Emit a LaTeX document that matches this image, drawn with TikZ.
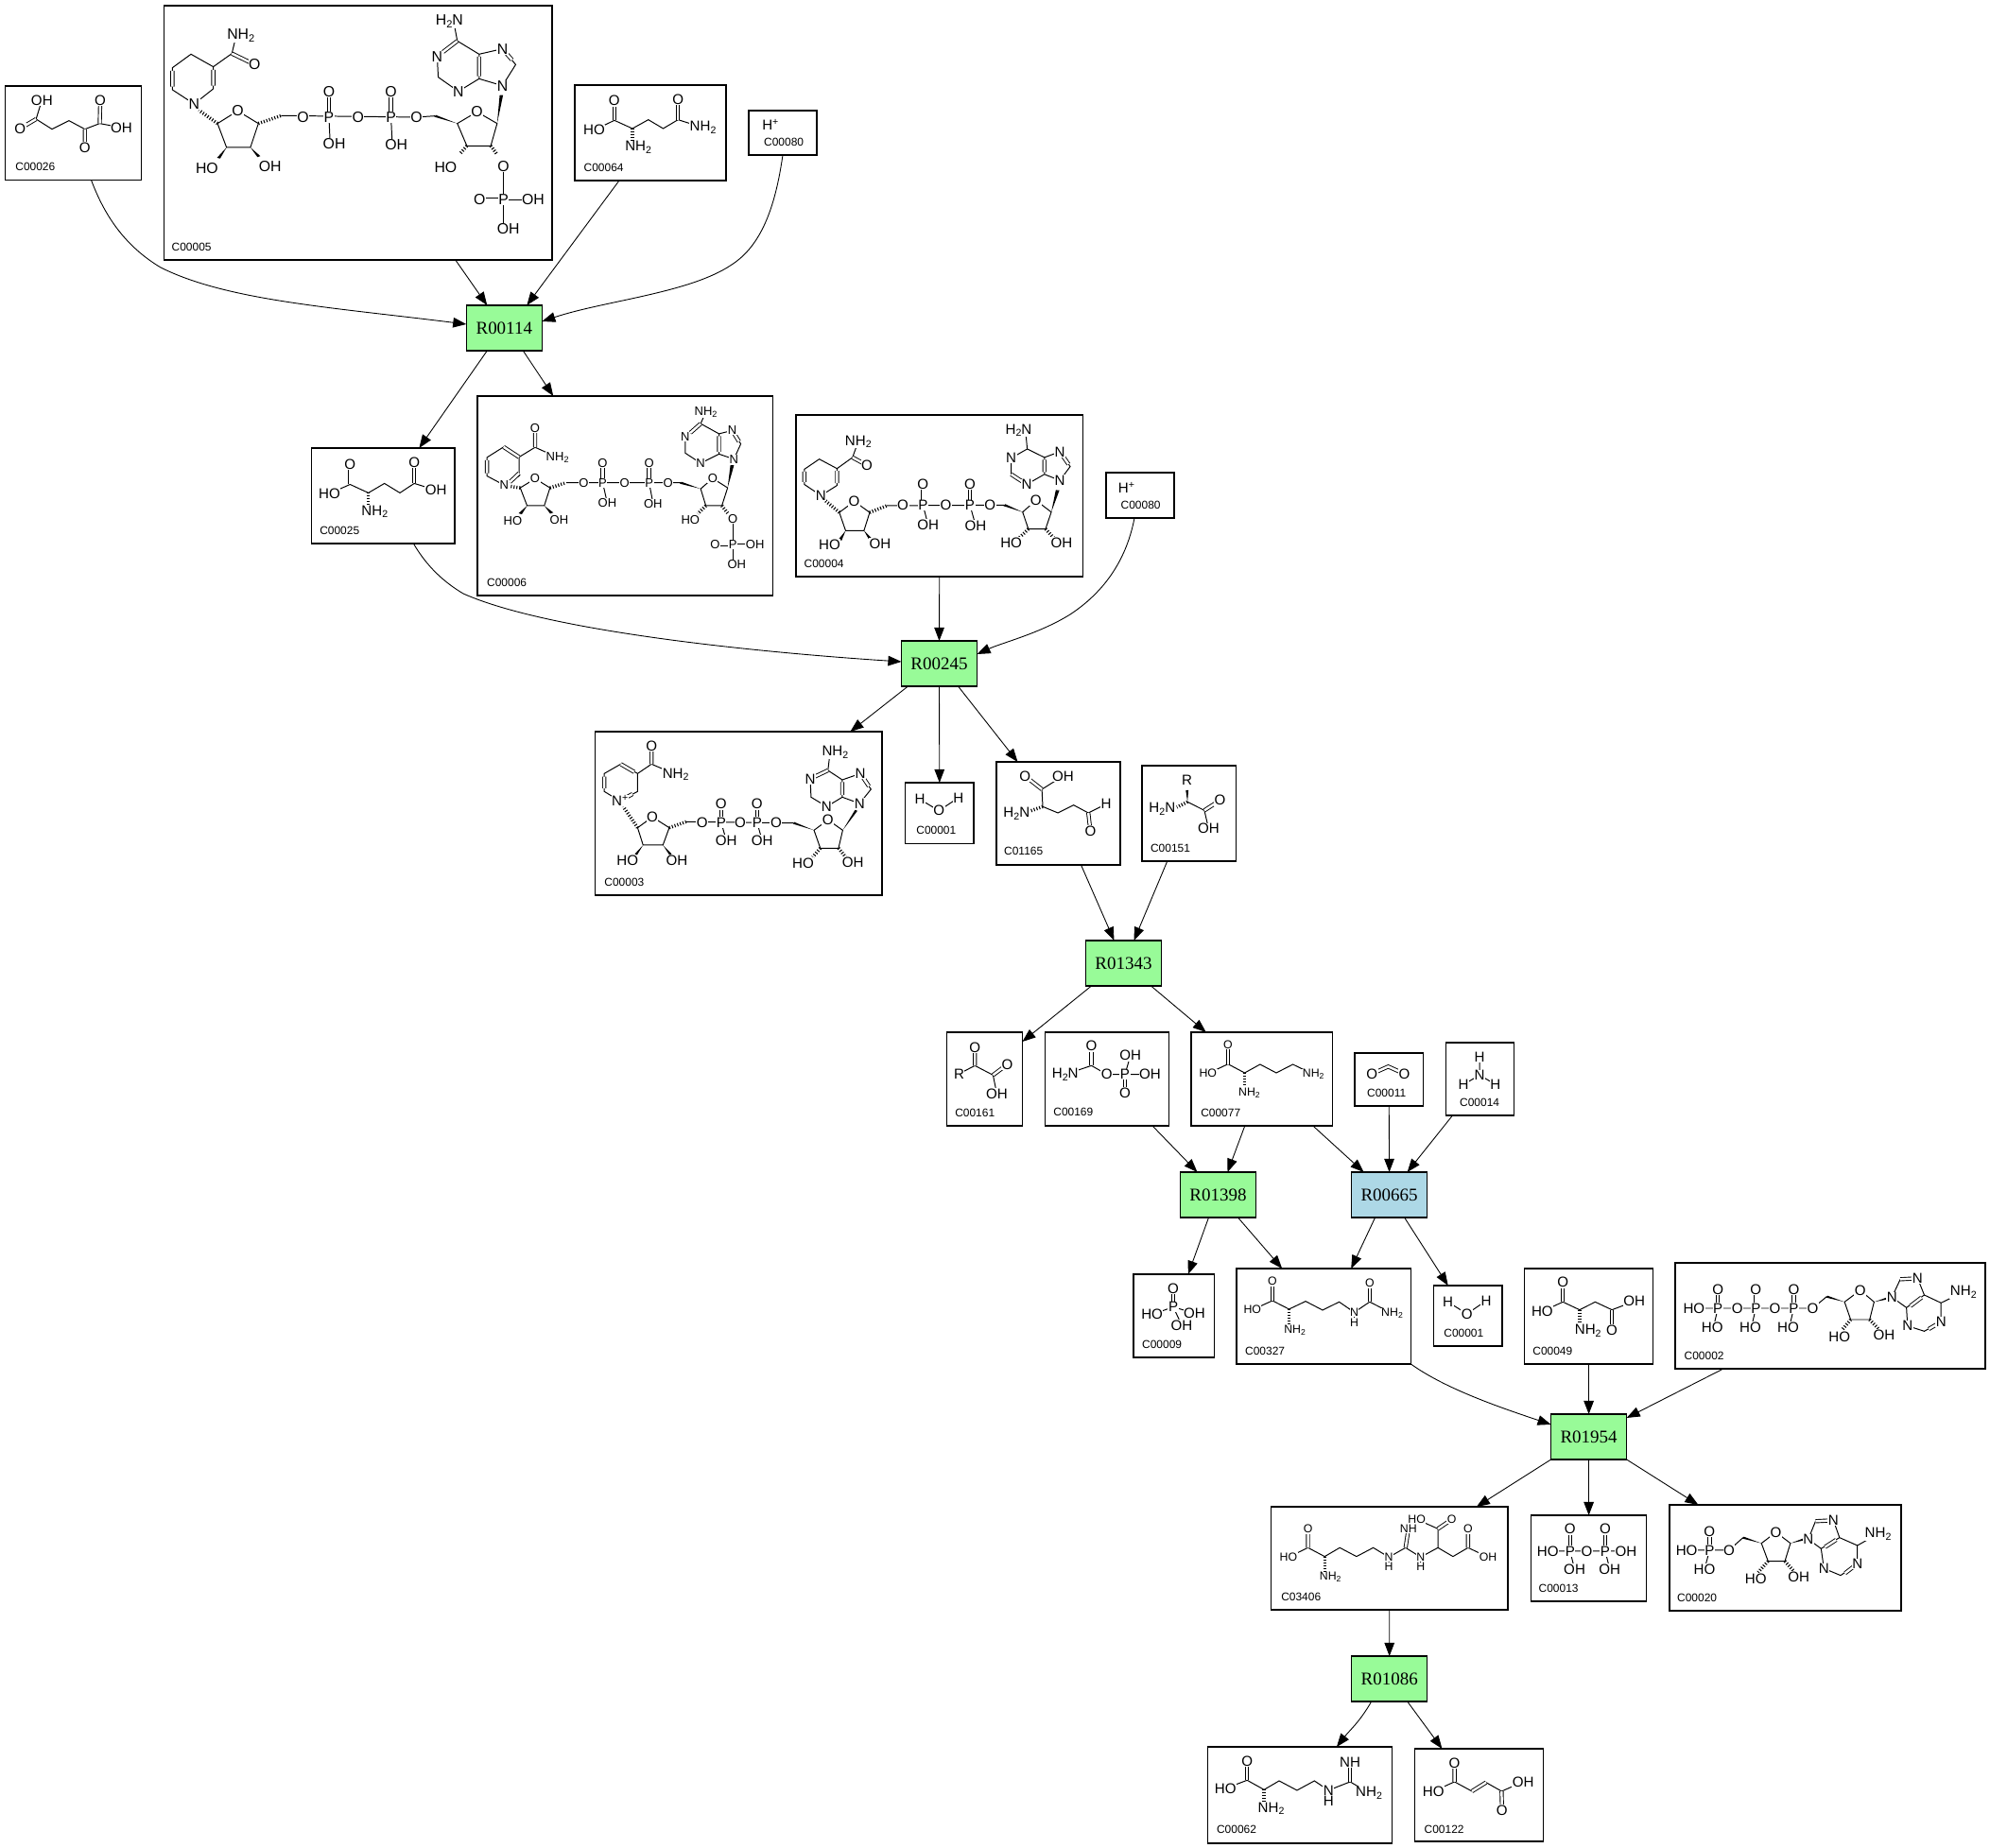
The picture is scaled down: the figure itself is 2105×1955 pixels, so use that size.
\documentclass[tikz,border=0pt]{standalone}
\usepackage{fontspec}
\setmainfont{Liberation Serif}
\setsansfont{Liberation Sans}
\usetikzlibrary{arrows.meta,calc}

\newcommand{\NH}{NH\raisebox{-.3ex}{\scalebox{.7}{2}}}
\newcommand{\HN}{H\raisebox{-.3ex}{\scalebox{.7}{2}}N}
\newcommand{\chg}{\raisebox{.6ex}{\scalebox{.7}{+}}}
\newcommand{\cpd}[8]{%
  \node[cpdbox,minimum width={(#5-#3)*.01cm},minimum height={(#6-#4)*.01cm}] (#1) at ({(#3+#5)/2},{(#4+#6)/2}) {};
  \node[cid] (#1-id) at (#7,#8) {#2};}
\newcommand{\atoms}[3][4.3]{%
  \foreach \ax/\ay/\alab [count=\ai] in {#3} \node[atom=#1] (#2-\ai) at (\ax,\ay) {\alab};}
\def\wedgeb(#1)(#2){\fill (#1) -- ($(#2)!.9pt!90:(#1)$) -- ($(#2)!.9pt!-90:(#1)$) -- cycle;}

\tikzset{
  cropa/.style={xscale=.5612,yscale=.3333},
  cropb/.style={shift={(320,400)},xscale=.606,yscale=.3571},
  cropc/.style={shift={(620,760)},xscale=.4464,yscale=.3333},
  cropd/.style={shift={(990,1080)},xscale=.4082,yscale=.3333},
  crope/.style={shift={(1180,1320)},xscale=.59,yscale=.3333},
  cropf/.style={shift={(1260,1580)},xscale=.4975,yscale=.3333}
}

\begin{document}
\begin{tikzpicture}[x=.01cm,y=-.01cm,>={Triangle[length=4pt,width=3pt]},
    cpdbox/.style={rectangle,draw,line width=.36pt,inner sep=0pt,outer sep=0pt},
    cid/.style={anchor=west,inner sep=0pt,font=\sffamily\fontsize{3.4}{3.4}\selectfont},
    rxn/.style={rectangle,draw,fill=rxngreen,line width=.36pt,inner sep=0pt,outer sep=0pt,minimum width=.8cm,minimum height=.48cm,font=\fontsize{5.4}{5.4}\selectfont},
    rxnblue/.style={rxn,fill=rxncyan},
    atom/.style={fill=white,inner sep=.15pt,font=\sffamily\fontsize{#1}{#1}\selectfont},
    atom/.default=4.3,
    bond/.style={line width=.28pt},
    dblbond/.style={line width=.26pt,double,double distance=.7pt},
    hashbond/.style={line width=1pt,dash pattern=on .3pt off .55pt},
    link/.style={->,line width=.25pt}]
  \definecolor{rxngreen}{HTML}{98FB98}
  \definecolor{rxncyan}{HTML}{ADD8E6}
  \useasboundingbox (0,0) rectangle (2105,1955);

  \node[rxn] (R00114) at (533.3,347) {R00114};
  \node[rxn] (R00245) at (993.5,702) {R00245};
  \node[rxn] (R01343) at (1188.5,1019) {R01343};
  \node[rxn] (R01398) at (1288.5,1264) {R01398};
  \node[rxnblue] (R00665) at (1469.6,1264) {R00665};
  \node[rxn] (R01954) at (1680.6,1520) {R01954};
  \node[rxn] (R01086) at (1469.7,1776) {R01086};

  \cpd{C00026}{C00026}{5.6}{91}{149.5}{190.6}{15.7}{176.7}
  \cpd{C00005}{C00005}{173.4}{6}{584}{275}{181}{261}
  \cpd{C00064}{C00064}{608}{90}{768}{191}{617}{177}
  \cpd{C00080a}{C00080}{792}{117}{864}{164}{807.5}{150}
  \cpd{C00025}{C00025}{329.7}{474}{481}{575}{337.6}{561.4}
  \cpd{C00006}{C00006}{505}{419}{817.6}{630}{514.5}{616}
  \cpd{C00004}{C00004}{842}{439}{1145.5}{610}{850}{596}
  \cpd{C00080b}{C00080}{1170}{500}{1242}{548}{1185}{534}
  \cpd{C00003}{C00003}{629.7}{774}{933}{947}{638.75}{933}
  \cpd{C00001a}{C00001}{957.6}{828}{1030}{892.5}{968.7}{878}
  \cpd{C01165}{C01165}{1054}{806}{1185}{915}{1061.5}{900}
  \cpd{C00151}{C00151}{1208}{810}{1307.5}{911}{1216.4}{897}
  \cpd{C00161}{C00161}{1001.4}{1092}{1081.4}{1191}{1009.6}{1177}
  \cpd{C00169}{C00169}{1105.5}{1092}{1236.5}{1191}{1113.7}{1176}
  \cpd{C00077}{C00077}{1260}{1092}{1409.6}{1191}{1269.6}{1177}
  \cpd{C00011}{C00011}{1433}{1114}{1505.5}{1170}{1445.5}{1156}
  \cpd{C00014}{C00014}{1529.6}{1103}{1601.4}{1180}{1543.5}{1166}
  \cpd{C00009}{C00009}{1199}{1348}{1284.7}{1436}{1207.5}{1422}
  \cpd{C00327}{C00327}{1308}{1342}{1492.4}{1443}{1316.5}{1429}
  \cpd{C00001b}{C00001}{1516.5}{1360}{1589}{1424}{1526.7}{1410}
  \cpd{C00049}{C00049}{1612.5}{1342}{1748.7}{1443}{1620.7}{1429}
  \cpd{C00002}{C00002}{1772}{1336}{2100}{1448}{1781}{1434}
  \cpd{C03406}{C03406}{1344.6}{1594}{1595}{1703}{1354.6}{1689}
  \cpd{C00013}{C00013}{1619.5}{1603}{1741.7}{1694}{1627}{1680}
  \cpd{C00020}{C00020}{1766}{1592}{2011}{1704}{1773.5}{1690}
  \cpd{C00062}{C00062}{1277.4}{1848}{1472.4}{1950}{1286.4}{1935}
  \cpd{C00122}{C00122}{1496.3}{1850}{1632.6}{1948}{1506}{1935}

  \draw[link] ([xshift=1.9mm]C00026.south) .. controls (112,232) and (135,262) .. (170,283) .. controls (240,318) and (350,325) .. ([yshift=.4mm]R00114.west);
  \draw[link] ([xshift=10.3mm]C00005.south) -- ([xshift=-1.8mm]R00114.north);
  \draw[link] ([xshift=-3.3mm]C00064.south) -- ([xshift=2.4mm]R00114.north);
  \draw[link] (C00080a.south) .. controls (820,220) and (805,260) .. (774,280) .. controls (730,310) and (640,318) .. ([yshift=.7mm]R00114.east);
  \draw[link] ([xshift=-1.8mm]R00114.south) -- ([xshift=3.8mm]C00025.north);
  \draw[link] ([xshift=2mm]R00114.south) -- ([xshift=-7.6mm]C00006.north);
  \draw[link] ([xshift=3.2mm]C00025.south) .. controls (452,600) and (470,616) .. (490,628) .. controls (580,668) and (800,690) .. ([yshift=.2mm]R00245.west);
  \draw[link] (C00004.south) -- (R00245.north);
  \draw[link] ([xshift=-.6mm]C00080b.south) .. controls (1192,590) and (1170,625) .. (1132,650) .. controls (1100,670) and (1060,680) .. ([yshift=1mm]R00245.east);
  \draw[link] ([xshift=-3.3mm]R00245.south) -- ([xshift=11.8mm]C00003.north);
  \draw[link] (R00245.south) -- (C00001a.north);
  \draw[link] ([xshift=2mm]R00245.south) -- ([xshift=-4.3mm]C01165.north);
  \draw[link] ([xshift=2.4mm]C01165.south) -- ([xshift=-1mm]R01343.north);
  \draw[link] ([xshift=-2.3mm]C00151.south) -- ([xshift=1.1mm]R01343.north);
  \draw[link] ([xshift=-3.4mm]R01343.south) -- ([yshift=-1mm]C00161.north east);
  \draw[link] ([xshift=2.9mm]R01343.south) -- ([xshift=-5.9mm]C00077.north);
  \draw[link] ([xshift=4.8mm]C00169.south) -- ([xshift=-2.2mm]R01398.north);
  \draw[link] ([xshift=-1.8mm]C00077.south) -- ([xshift=1mm]R01398.north);
  \draw[link] ([xshift=5.4mm]C00077.south) -- ([xshift=-2.7mm]R00665.north);
  \draw[link] (C00011.south) -- (R00665.north);
  \draw[link] ([xshift=-2.9mm]C00014.south) -- ([xshift=1.9mm]R00665.north);
  \draw[link] ([xshift=-1mm]R01398.south) -- ([xshift=1.5mm]C00009.north);
  \draw[link] ([xshift=2.1mm]R01398.south) -- ([xshift=-4.4mm]C00327.north);
  \draw[link] ([xshift=-1.5mm]R00665.south) -- ([xshift=2.9mm]C00327.north);
  \draw[link] ([xshift=1.6mm]R00665.south) -- ([xshift=-2.1mm]C00001b.north);
  \draw[link] (C00327.south east) .. controls (1530,1470) and (1590,1490) .. ([yshift=1.3mm]R01954.west);
  \draw[link] (C00049.south) -- (R01954.north);
  \draw[link] ([xshift=-11.3mm]C00002.south) -- ([yshift=2mm]R01954.east);
  \draw[link] (R01954.south west) -- ([xshift=9.2mm]C03406.north);
  \draw[link] (R01954.south) -- (C00013.north);
  \draw[link] (R01954.south east) -- ([xshift=-9.2mm]C00020.north);
  \draw[link] (C03406.south) -- (R01086.north);
  \draw[link] ([xshift=-1.9mm]R01086.south) .. controls (1438,1822) and (1428,1830) .. ([xshift=3.9mm]C00062.north);
  \draw[link] ([xshift=1.9mm]R01086.south) -- ([xshift=-3.9mm]C00122.north);

  \begin{scope}[cropa]
    \draw[bond] (68,378)--(79,318) (68,378)--(98,410)--(130,383)--(160,410)--(188,392)--(229,405);
    \draw[dblbond] (68,378)--(38,408) (160,410)--(160,468) (188,392)--(189,318);
    \atoms{C00026}{79/318/OH,189/318/O,38/408/O,229/405/OH,160/468/O}

    \draw[bond] (366,330)--(325,285)--(325,215)--(360,172)--(402,212)--(402,282)--(366,330) (402,212)--(437,170)--(445,115);
    \draw[dblbond] (325,275)--(325,225) (402,222)--(402,272) (437,170)--(480,205);
    \draw[bond] (448,352)--(410,392)--(427,468)--(472,468)--(487,392)--(448,352);
    \draw[hashbond] (410,392)--(375,350) (487,392)--(530,367);
    \draw[bond] (530,367)--(785,372) (620,372)--(622,445) (737,372)--(739,445) (785,372)--(820,368);
    \draw[dblbond] (620,372)--(620,290) (737,372)--(737,290);
    \wedgeb(427,468)(412,502) \wedgeb(472,468)(488,497) \wedgeb(862,392)(820,368)
    \draw[bond] (899,355)--(862,392)--(880,463)--(925,463)--(937,392)--(899,355);
    \wedgeb(937,392)(945,302)
    \draw[hashbond] (880,463)--(866,490) (925,463)--(937,490);
    \draw[bond] (949,528)--(949,725) (949,634)--(1005,634);
    \draw[dblbond] (904,634)--(949,634);
    \draw[bond] (862,130)--(824,180)--(826,245)--(864,290)--(903,250)--(903,172)--(862,130) (903,172)--(947,155)--(972,205)--(947,272)--(903,250) (862,130)--(855,68);
    \draw[dblbond] (862,130)--(835,165) (903,180)--(903,242) (947,155)--(965,190);
    \atoms[4.5]{C00005}{454/112/\NH,480/205/O,847/68/\HN,824/180/N,947/155/N,864/290/N,947/272/N,366/330/N,448/352/O,571/372/O,620/372/P,620/290/O,630/457/OH,675/372/O,737/372/P,737/290/O,747/460/OH,785/372/O,899/355/O,390/535/HO,509/528/OH,840/532/HO,949/528/O,904/634/O,949/634/P,1005/634/OH,958/725/OH}

    \draw[bond] (1158,382)--(1120,413) (1158,382)--(1192,408)--(1222,380)--(1250,408)--(1278,380)--(1325,405);
    \draw[dblbond] (1158,382)--(1158,320) (1278,380)--(1278,315);
    \draw[hashbond] (1192,408)--(1192,450);
    \atoms{C00064}{1158/320/O,1120/413/HO,1203/468/\NH,1278/315/O,1325/405/\NH}

    \atoms{C00080a}{1452/397/H\chg}
  \end{scope}

  \begin{scope}[cropb]
    \draw[bond] (83,315)--(47,342) (83,315)--(115,340)--(143,312)--(170,340)--(195,312)--(233,332);
    \draw[dblbond] (83,315)--(83,255) (195,312)--(195,250);
    \draw[hashbond] (115,340)--(115,378);
    \atoms{C00025}{83/255/O,195/250/O,47/342/HO,233/332/OH,126/395/\NH}

    \draw[bond] (352,317)--(322,290)--(322,235)--(351,204)--(378,234)--(378,290)--(352,317) (378,234)--(406,205)--(445,235);
    \draw[dblbond] (322,282)--(322,243) (351,204)--(378,234) (378,282)--(362,308) (406,205)--(406,148);
    \draw[bond] (406,298)--(380,325)--(392,378)--(422,378)--(432,325)--(406,298);
    \draw[hashbond] (380,325)--(360,320) (432,325)--(460,310);
    \wedgeb(392,378)(380,402) \wedgeb(422,378)(435,400) \wedgeb(695,328)(660,310)
    \draw[bond] (460,310)--(660,310) (524,310)--(532,370) (605,310)--(612,372);
    \draw[dblbond] (524,310)--(524,252) (605,310)--(605,252);
    \draw[bond] (716,297)--(695,328)--(704,378)--(732,378)--(742,325)--(716,297);
    \wedgeb(742,325)(750,258)
    \draw[hashbond] (704,378)--(690,402) (732,378)--(742,400);
    \draw[bond] (751,418)--(751,553) (751,492)--(790,492);
    \draw[dblbond] (720,492)--(751,492);
    \draw[bond] (695,135)--(668,175)--(668,222)--(695,252)--(727,225)--(727,165)--(695,135) (727,165)--(750,155)--(765,195)--(753,240)--(727,225) (695,135)--(704,100);
    \draw[dblbond] (695,135)--(677,162) (727,172)--(727,218) (750,155)--(762,188);
    \atoms[3.7]{C00006}{406/148/O,445/235/\NH,704/100/\NH,668/175/N,750/155/N,695/252/N,753/240/N,352/317/N,406/298/O,491/310/O,524/310/P,524/252/O,532/370/OH,562/310/O,605/310/P,605/252/O,612/372/OH,638/310/O,716/297/O,367/422/HO,448/420/OH,677/420/HO,751/418/O,720/492/O,751/492/P,790/492/OH,758/553/OH}

    \draw[bond] (905,348)--(876,315)--(876,270)--(902,240)--(933,268)--(933,318)--(905,348) (933,268)--(960,235)--(970,188);
    \draw[dblbond] (876,308)--(876,277) (933,275)--(933,311) (960,235)--(985,258);
    \draw[bond] (963,365)--(937,398)--(948,452)--(980,452)--(990,398)--(963,365);
    \draw[hashbond] (937,398)--(912,362) (990,398)--(1020,378);
    \wedgeb(948,452)(938,480) \wedgeb(980,452)(992,478) \wedgeb(1257,397)(1225,376)
    \draw[bond] (1020,378)--(1225,376) (1083,376)--(1092,435) (1165,376)--(1175,437);
    \draw[dblbond] (1083,376)--(1083,315) (1165,376)--(1165,315);
    \draw[bond] (1280,362)--(1257,397)--(1267,447)--(1297,447)--(1307,397)--(1280,362);
    \wedgeb(1307,397)(1318,332)
    \draw[hashbond] (1267,447)--(1250,475) (1297,447)--(1312,475);
    \draw[bond] (1265,210)--(1237,237)--(1237,285)--(1264,315)--(1295,285)--(1295,235)--(1265,210) (1295,235)--(1322,218)--(1340,262)--(1322,303)--(1295,285) (1265,210)--(1262,155);
    \draw[dblbond] (1237,285)--(1264,315) (1295,242)--(1295,278) (1322,218)--(1337,255);
    \atoms{C00004}{970/188/\NH,985/258/O,1250/155/\HN,1237/237/N,1322/218/N,1264/315/N,1322/303/N,905/348/N,963/365/O,1048/376/O,1083/376/P,1083/315/O,1092/435/OH,1123/376/O,1165/376/P,1165/315/O,1175/437/OH,1200/376/O,1280/362/O,920/493/HO,1008/490/OH,1237/488/HO,1325/488/OH}

    \atoms{C00080b}{1438/325/H\chg}
  \end{scope}

  \begin{scope}[cropc]
    \draw[bond] (80,262)--(43,232)--(43,175)--(82,145)--(122,175)--(122,232)--(80,262) (122,175)--(155,145)--(212,178);
    \draw[dblbond] (43,222)--(43,185) (82,145)--(114,170) (110,240)--(85,258) (155,145)--(155,88);
    \draw[bond] (157,313)--(122,347)--(135,402)--(182,402)--(197,347)--(157,313);
    \draw[hashbond] (122,347)--(88,280) (197,347)--(237,328);
    \wedgeb(135,402)(118,432) \wedgeb(182,402)(200,432) \wedgeb(540,355)(492,332)
    \draw[bond] (237,328)--(492,332) (320,330)--(332,387) (405,330)--(417,387);
    \draw[dblbond] (320,330)--(320,272) (405,330)--(405,272);
    \draw[bond] (573,322)--(540,355)--(555,412)--(598,412)--(608,355)--(573,322);
    \wedgeb(608,355)(640,292)
    \draw[hashbond] (555,412)--(537,440) (598,412)--(615,440);
    \draw[bond] (573,165)--(531,192)--(533,250)--(570,280)--(607,250)--(607,195)--(573,165) (607,195)--(650,175)--(675,225)--(648,270)--(607,250) (573,165)--(578,108);
    \draw[dblbond] (573,165)--(540,186) (607,202)--(607,243) (650,175)--(670,215);
    \atoms{C00003}{155/88/O,212/178/\NH,590/108/\NH,531/192/N,650/175/N,570/280/N,648/270/N,80/262/N\chg,157/313/O,275/330/O,320/330/P,320/272/O,332/387/OH,365/330/O,405/330/P,405/272/O,417/387/OH,450/330/O,573/322/O,98/452/HO,215/452/OH,514/460/HO,632/457/OH}

    \draw[bond] (791,257)--(836,293)--(882,252);
    \atoms{C00001a}{791/257/H,882/252/H,836/293/O}

    \draw[bond] (1080,225)--(1130,183) (1080,225)--(1082,280)--(1118,300)--(1155,275)--(1190,300)--(1232,272);
    \draw[dblbond] (1080,225)--(1040,183) (1190,300)--(1195,358);
    \draw[hashbond] (1082,280)--(1050,295);
    \atoms{C01165}{1040/183/O,1130/183/OH,1020/303/\HN,1232/272/H,1195/358/O}

    \wedgeb(1425,265)(1424,228)
    \draw[bond] (1425,265)--(1465,292)--(1475,350);
    \draw[dblbond] (1465,292)--(1502,260);
    \draw[hashbond] (1425,265)--(1400,282);
    \atoms{C00151}{1424/195/R,1365/288/\HN,1502/260/O,1475/350/OH}
  \end{scope}

  \begin{scope}[cropd]
    \draw[bond] (60,168)--(101,142)--(148,172)--(158,232);
    \draw[dblbond] (101,142)--(101,85) (148,172)--(185,138);
    \atoms{C00161}{101/85/O,185/138/O,60/168/R,158/232/OH}

    \draw[bond] (335,170)--(403,142)--(443,170)--(555,170) (490,170)--(504,110);
    \draw[dblbond] (403,142)--(403,80) (490,170)--(490,228);
    \atoms{C00169}{403/80/O,504/110/OH,335/170/\HN,443/170/O,490/170/P,555/170/OH,490/228/O}

    \draw[bond] (705,167)--(757,137)--(800,165)--(840,138)--(882,165)--(925,138)--(978,170);
    \draw[dblbond] (757,137)--(757,76);
    \draw[hashbond] (800,165)--(800,205);
    \atoms[3.5]{C00077}{757/76/O,705/167/HO,812/228/\NH,978/170/\NH}

    \draw[dblbond] (1130,168)--(1172,145)--(1214,168);
    \atoms{C00011}{1130/168/O,1214/168/O}

    \draw[bond] (1409,115)--(1409,172)--(1367,202) (1409,172)--(1450,202);
    \atoms{C00014}{1409/115/H,1409/172/N,1367/202/H,1450/202/H}

    \draw[bond] (560,932)--(615,908)--(670,928) (615,908)--(637,966);
    \draw[dblbond] (615,908)--(615,850);
    \atoms{C00009}{615/850/O,615/908/P,560/932/HO,670/928/OH,637/966/OH}

    \draw[bond] (820,917)--(872,888)--(915,915)--(958,890)--(1002,918)--(1045,892)--(1084,925)--(1124,892)--(1182,928) (1084,925)--(1084,957);
    \draw[dblbond] (872,888)--(872,827) (1124,892)--(1124,833);
    \draw[hashbond] (915,915)--(915,965);
    \atoms[3.5]{C00327}{872/827/O,820/917/HO,930/982/\NH,1084/925/N,1084/957/H,1124/833/O,1182/928/\NH}

    \draw[bond] (1327,892)--(1376,930)--(1426,888);
    \atoms{C00001b}{1327/892/H,1426/888/H,1376/930/O}
  \end{scope}

  \begin{scope}[crope]
    \draw[bond] (765,202)--(802,172)--(832,197)--(860,172)--(890,197)--(930,170);
    \draw[dblbond] (802,172)--(802,110) (890,197)--(890,262);
    \draw[hashbond] (832,197)--(832,245);
    \atoms{C00049}{802/110/O,765/202/HO,847/263/\NH,930/170/OH,890/262/O}

    \draw[bond] (1037,192)--(1250,192) (1080,192)--(1072,252) (1148,192)--(1140,252) (1216,192)--(1208,252) (1250,192)--(1275,155);
    \draw[dblbond] (1080,192)--(1080,132) (1148,192)--(1148,132) (1216,192)--(1216,132);
    \wedgeb(1307,172)(1275,155)
    \draw[bond] (1335,135)--(1307,172)--(1318,228)--(1352,228)--(1360,172)--(1335,135);
    \wedgeb(1360,172)(1385,160)
    \draw[hashbond] (1318,228)--(1302,262) (1352,228)--(1368,258);
    \draw[bond] (1392,157)--(1407,100)--(1438,97)--(1450,150)--(1418,190)--(1392,157) (1450,150)--(1480,175)--(1480,235)--(1450,265)--(1420,248)--(1418,190) (1480,175)--(1520,140);
    \draw[dblbond] (1407,100)--(1438,97) (1425,185)--(1445,158) (1480,235)--(1458,258);
    \atoms{C00002}{1037/192/HO,1080/192/P,1080/132/O,1070/252/HO,1115/192/O,1148/192/P,1148/132/O,1138/252/HO,1182/192/O,1216/192/P,1216/132/O,1206/252/HO,1250/192/O,1335/135/O,1392/157/N,1438/97/N,1520/140/\NH,1480/235/N,1420/248/N,1298/283/HO,1378/277/OH}

    \draw[bond] (310,982)--(345,952)--(375,980)--(402,952)--(432,980)--(462,952)--(490,982)--(520,952)--(547,982)--(578,952)--(605,980)--(632,952)--(668,982) (490,982)--(490,1012) (547,982)--(547,1012) (578,952)--(578,892)--(540,862);
    \draw[dblbond] (345,952)--(345,893) (520,952)--(525,893) (578,892)--(603,862) (632,952)--(632,893);
    \draw[hashbond] (375,980)--(375,1025);
    \atoms[3.5]{C03406}{345/893/O,310/982/HO,385/1045/\NH,490/982/N,490/1012/H,525/893/NH,547/982/N,547/1012/H,540/862/HO,603/862/O,632/893/O,668/982/OH}

    \draw[bond] (775,963)--(915,963) (815,963)--(823,1020) (878,963)--(886,1020);
    \draw[dblbond] (815,963)--(815,893) (878,963)--(878,893);
    \atoms{C00013}{815/893/O,878/893/O,775/963/HO,815/963/P,845/963/O,878/963/P,915/963/OH,823/1020/OH,886/1020/OH}

    \draw[bond] (1024,960)--(1100,960)--(1125,920) (1065,960)--(1056,1020);
    \draw[dblbond] (1065,960)--(1065,900);
    \wedgeb(1158,938)(1125,920)
    \draw[bond] (1184,903)--(1158,938)--(1170,995)--(1200,995)--(1210,938)--(1184,903);
    \wedgeb(1210,938)(1235,925)
    \draw[hashbond] (1170,995)--(1152,1030) (1200,995)--(1215,1025);
    \draw[bond] (1242,925)--(1255,868)--(1287,865)--(1298,920)--(1265,955)--(1242,925) (1298,920)--(1330,945)--(1330,1003)--(1300,1040)--(1270,1018)--(1265,955) (1330,945)--(1367,908);
    \draw[dblbond] (1255,868)--(1287,865) (1272,950)--(1292,927) (1330,1003)--(1308,1033);
    \atoms{C00020}{1065/900/O,1024/960/HO,1065/960/P,1100/960/O,1056/1020/HO,1184/903/O,1242/925/N,1287/865/N,1367/908/\NH,1330/1003/N,1270/1018/N,1148/1050/HO,1225/1045/OH}
  \end{scope}

  \begin{scope}[cropf]
    \draw[bond] (73,936)--(119,910)--(155,940)--(187,912)--(225,942)--(262,912)--(292,942)--(338,915)--(378,950) (292,942)--(292,975);
    \draw[dblbond] (119,910)--(119,850) (338,915)--(338,852);
    \draw[hashbond] (155,940)--(155,980);
    \atoms{C00062}{119/850/O,73/936/HO,170/1000/\NH,292/942/N,292/975/H,338/852/NH,378/950/\NH}

    \draw[bond] (515,945)--(560,915)--(597,945) (627,917)--(660,945)--(706,915);
    \draw[dblbond] (560,915)--(560,855) (597,945)--(627,917) (660,945)--(661,1005);
    \atoms{C00122}{560/855/O,515/945/HO,706/915/OH,661/1005/O}
  \end{scope}
\end{tikzpicture}
\end{document}
